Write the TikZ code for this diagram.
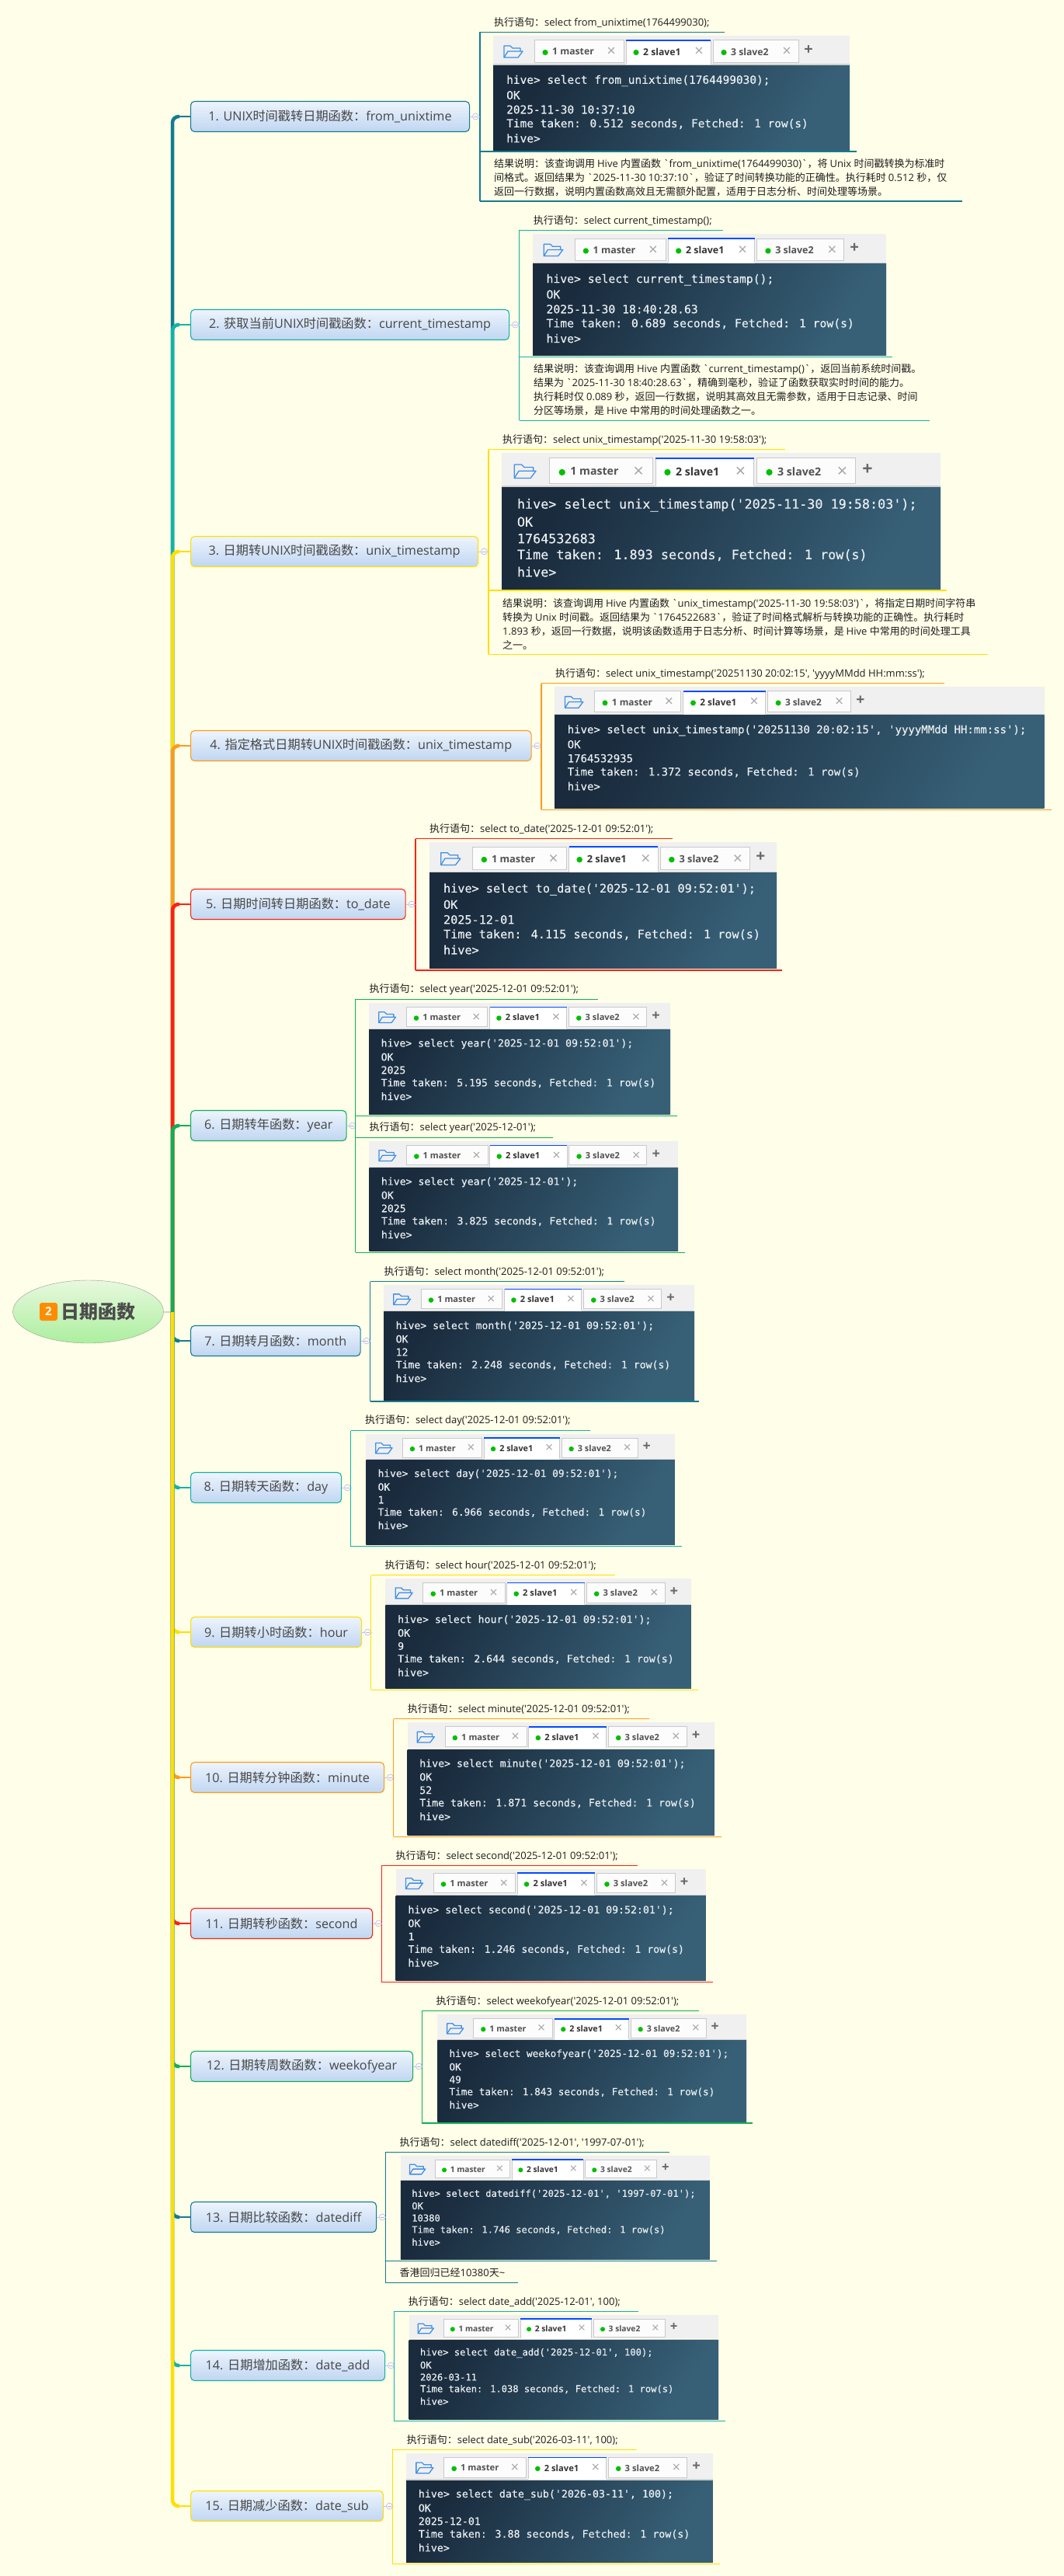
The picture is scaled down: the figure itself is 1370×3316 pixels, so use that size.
\documentclass[tikz,border=0pt]{standalone}
\usepackage{fontspec}
\usepackage{tikz}
\usetikzlibrary{positioning,shapes.geometric}
\newfontfamily\cnfont{Noto Sans CJK SC}
\newfontfamily\latfont{Open Sans}
\newfontfamily\termfont[FakeBold=0.3]{DejaVu Sans Mono}
\newfontfamily\tabfont{Open Sans}
% Chinese and Latin runs get their own font
\newXeTeXintercharclass\zhclass
\newcount\zhchar
\zhchar="3000
\loop\XeTeXcharclass\zhchar=\zhclass\advance\zhchar 1 \ifnum\zhchar<"A000 \repeat
\zhchar="FF00
\loop\XeTeXcharclass\zhchar=\zhclass\advance\zhchar 1 \ifnum\zhchar<"FFF0 \repeat
\XeTeXinterchartoks 0 \zhclass = {\cnfont}
\XeTeXinterchartoks \zhclass 0 = {\latfont}
\XeTeXinterchartoks 4095 0 = {\latfont}
\XeTeXinterchartoks 4095 \zhclass = {\cnfont}
\newcommand{\mixfont}{\XeTeXinterchartokenstate=1 \latfont}
\definecolor{paper}{HTML}{FFFEE8}
\definecolor{c1}{HTML}{127C8F}
\definecolor{c2}{HTML}{12B3A6}
\definecolor{c3}{HTML}{FFDF00}
\definecolor{c4}{HTML}{FF9A1A}
\definecolor{c5}{HTML}{FF2012}
\definecolor{c6}{HTML}{10AE58}
\definecolor{termdark}{HTML}{1A2B3D}
\definecolor{termlight}{HTML}{376077}
\definecolor{termtext}{HTML}{E9EEF1}
\definecolor{folder}{HTML}{3F8FE8}
\definecolor{tabline}{HTML}{C9C9C9}
\definecolor{inktext}{HTML}{1E1E1E}
\definecolor{topictop}{HTML}{EDF4FD}
\definecolor{topicbot}{HTML}{C0D6F1}
\definecolor{roottop}{HTML}{E8F8DE}
\definecolor{rootbot}{HTML}{ABEF9E}

% one mind-map topic: name, colour, centre y, width, text
\newcommand{\topic}[5]{%
  \node[topicbox, draw=#2, minimum width=#4pt] (#1) at (245,#3) {#5};
  \node[foldmark, right=3pt of #1] (#1-fold) {};
  \draw[foldlink] (#1) -- (#1-fold);
}
% trunk from the hub to a topic
\newcommand{\branch}[2]{%
  \draw[trunk, #2] (hub) |- ([xshift=9pt]hub |- #1.west);
  \draw[twig, #2] ([xshift=8pt]hub |- #1.west) -- (#1.west);
}
% rule with named ends
\newcommand{\ruleline}[5]{%
  \coordinate (#1-a) at (#3,#5);
  \coordinate (#1-b) at (#4,#5);
  \draw[framerule, #2] (#1-a) -- (#1-b);
}
% "statement" line above a rule: name, colour, x0, x1, text y, rule y, text
\newcommand{\execline}[7]{%
  \node[notetext] (#1-text) at (#3+18,#5) {#7};
  \ruleline{#1}{#2}{#3}{#4}{#6}
}
% terminal screenshot: name, x, y, w, h, scale, query, result, seconds
\newcommand{\shot}[9]{%
  \pgfmathsetmacro\shs{#6}%
  \pgfmathsetmacro\shw{#4/#6}%
  \pgfmathsetmacro\shh{#5/#6}%
  \pgfmathsetmacro\shmono{14.45*#6}%
  \pgfmathsetmacro\shtab{12.2*#6}%
  \pgfmathsetmacro\shplus{20*#6}%
  \begin{scope}[shift={(#2,#3)},x=\shs pt,y=-\shs pt]
    % toolbar
    \fill[toolbar] (0,0) rectangle (\shw,36);
    \draw[toolsep] (0,37) -- (\shw,37);
    \shade[termback] (0,38) rectangle (\shw,\shh);
    \draw[foldericon] (14,28) -- (14,13) -- (22,13) -- (25,16) -- (35,16) -- (35,20);
    \draw[foldericon] (14,28) -- (32,28) -- (38,20) -- (19,20) -- cycle;
    % tabs
    \draw[tabbox] (53,6) rectangle (168,34);
    \fill[tabdot] (67,21.5) circle (3.6);
    \node[tablabel] (#1-m) at (76,20.5) {1 master};
    \node[tabcross] (#1-mx) at (152,21) {×};
    \fill[white] (171,6) rectangle (280,37);
    \draw[tabline] (171,6) -- (171,36) (280,6) -- (280,36);
    \draw[tabtop] (171,6) -- (280,6);
    \fill[tabdot] (184,21.5) circle (3.6);
    \node[tablabel, text=black!80] (#1-a) at (193,20.5) {2 slave1};
    \node[tabcross] (#1-ax) at (265,21) {×};
    \draw[tabbox] (283,6) rectangle (393,34);
    \fill[tabdot] (297,21.5) circle (3.6);
    \node[tablabel] (#1-b) at (306,20.5) {3 slave2};
    \node[tabcross] (#1-bx) at (378,21) {×};
    \node[tabplus] (#1-p) at (406,18.5) {+};
    % terminal text
    \node[termline] (#1-l1) at (17,58) {hive> #7};
    \node[termline] (#1-l2) at (17,76.5) {OK};
    \node[termline] (#1-l3) at (17,95) {#8};
    \node[termline] (#1-l4) at (17,113.5) {Time taken: #9 seconds, Fetched: 1 row(s)};
    \node[termline] (#1-l5) at (17,132) {hive>};
  \end{scope}
}

\begin{document}
\begin{tikzpicture}[
    x=1pt, y=-1pt,
    every node/.style={font=\cnfont},
    rootbubble/.style={ellipse, draw=black!40, top color=roottop, bottom color=rootbot, minimum width=194pt, minimum height=81pt, inner sep=0pt},
    rootlabel/.style={font=\cnfont\bfseries\fontsize{24}{24}\selectfont, text=black!70, inner sep=0pt},
    rootbadge/.style={rounded corners=3pt, fill=orange!90!yellow, text=white, minimum size=23pt, inner sep=0pt, font=\tabfont\bfseries\fontsize{15}{15}\selectfont},
    rootlink/.style={draw=black!45, line width=0.7pt},
    topicbox/.style={rounded corners=5pt, line width=1.1pt, top color=topictop, bottom color=topicbot, minimum height=39pt, inner sep=0pt, anchor=west, font=\mixfont\fontsize{16.2}{16.2}\selectfont, text=black!72},
    foldmark/.style={circle, draw=blue!30!white, fill=paper, line width=0.6pt, minimum size=8pt, inner sep=0pt, path picture={\draw[blue!30!white, line width=0.6pt] ([xshift=1.5pt]path picture bounding box.west) -- ([xshift=-1.5pt]path picture bounding box.east);}},
    foldlink/.style={draw=blue!25!white, line width=0.6pt},
    trunk/.style={line width=4.5pt, rounded corners=8pt},
    twig/.style={line width=1.8pt},
    framerule/.style={line width=1.15pt},
    notetext/.style={font=\mixfont\fontsize{13}{18}\selectfont, text=inktext, anchor=west, inner sep=0pt, align=left},
    toolbar/.style={fill=black!6},
    toolsep/.style={draw=black!18, line width=1.2pt},
    termback/.style={left color=termdark, right color=termlight, shading angle=60},
    foldericon/.style={draw=folder, line width=1.3pt, line join=round},
    tabbox/.style={draw=tabline, fill=black!1, line width=1pt},
    tabline/.style={draw=tabline, line width=1pt},
    tabtop/.style={draw=blue!70!cyan, line width=1.8pt},
    tabdot/.style={fill=green!75!black},
    tablabel/.style={font=\tabfont\bfseries\fontsize{\shtab}{\shtab}\selectfont, text=black!68, anchor=west, inner sep=0pt},
    tabcross/.style={font=\tabfont\fontsize{\shplus}{\shplus}\selectfont, text=black!35, inner sep=0pt},
    tabplus/.style={font=\tabfont\bfseries\fontsize{\shplus}{\shplus}\selectfont, text=black!60, inner sep=0pt},
    termline/.style={font=\termfont\fontsize{\shmono}{\shmono}\selectfont, text=termtext, anchor=west, inner sep=0pt}
  ]
    \fill[paper] (0,0) rectangle (1370,3316);
    \useasboundingbox (0,0) rectangle (1370,3316);

    % Root
    \node[rootbubble] (root) at (113.6,1688.5) {};
    \node[rootbadge] (badge) at (62.5,1688.5) {2};
    \node[rootlabel] (title) at (126,1688.5) {日期函数};
    \coordinate (hub) at (222,1689);
    \draw[rootlink] (root) -- (hub);

    % Topics
    \topic{n1}{c1}{150}{359}{1. UNIX时间戳转日期函数：from\_unixtime}
    \topic{n2}{c2}{418}{410}{2. 获取当前UNIX时间戳函数：current\_timestamp}
    \topic{n3}{c3}{710}{370}{3. 日期转UNIX时间戳函数：unix\_timestamp}
    \topic{n4}{c4}{960}{438.5}{4. 指定格式日期转UNIX时间戳函数：unix\_timestamp}
    \topic{n5}{c5}{1164}{276.6}{5. 日期时间转日期函数：to\_date}
    \topic{n6}{c6}{1449}{200.5}{6. 日期转年函数：year}
    \topic{n7}{c1}{1726}{218.5}{7. 日期转月函数：month}
    \topic{n8}{c2}{1915}{194}{8. 日期转天函数：day}
    \topic{n9}{c3}{2101}{220}{9. 日期转小时函数：hour}
    \topic{n10}{c4}{2288}{249}{10. 日期转分钟函数：minute}
    \topic{n11}{c5}{2476}{234}{11. 日期转秒函数：second}
    \topic{n12}{c6}{2660}{286}{12. 日期转周数函数：weekofyear}
    \topic{n13}{c1}{2854}{239}{13. 日期比较函数：datediff}
    \topic{n14}{c2}{3045}{250}{14. 日期增加函数：date\_add}
    \topic{n15}{c3}{3226}{248}{15. 日期减少函数：date\_sub}

    % Branches (later ones lie on top)
    \branch{n1}{c1}
    \branch{n2}{c2}
    \branch{n3}{c3}
    \branch{n4}{c4}
    \branch{n5}{c5}
    \branch{n6}{c6}
    \branch{n7}{c1}
    \branch{n8}{c2}
    \branch{n9}{c3}
    \branch{n10}{c4}
    \branch{n11}{c5}
    \branch{n12}{c6}
    \branch{n13}{c1}
    \branch{n14}{c2}
    \branch{n15}{c3}

    % 1
    \execline{e1}{c1}{618}{933}{29}{41.4}{执行语句：select from\_unixtime(1764499030);}
    \shot{s1}{635}{46}{459}{147}{1}{select from\_unixtime(1764499030);}{2025-11-30 10:37:10}{0.512}
    \ruleline{m1}{c1}{618}{1102.5}{195}
    \node[notetext] (r1) at (636,229) {结果说明：该查询调用 Hive 内置函数 `from\_unixtime(1764499030)`，将 Unix 时间戳转换为标准时\\间格式。返回结果为 `2025-11-30 10:37:10`，验证了时间转换功能的正确性。执行耗时 0.512 秒，仅\\返回一行数据，说明内置函数高效且无需额外配置，适用于日志分析、时间处理等场景。};
    \ruleline{b1}{c1}{618}{1239}{259}
    \draw[framerule, c1] (e1-a) -- (b1-a);
    \draw[foldlink] (n1-fold) -- (n1-fold -| e1-a);

    % 2
    \execline{e2}{c2}{668.6}{930.5}{284.6}{296.4}{执行语句：select current\_timestamp();}
    \shot{s2}{686}{301}{455}{156}{1.02}{select current\_timestamp();}{2025-11-30 18:40:28.63}{0.689}
    \ruleline{m2}{c2}{668.6}{1149}{459.4}
    \node[notetext] (r2) at (687,502) {结果说明：该查询调用 Hive 内置函数 `current\_timestamp()`，返回当前系统时间戳。\\结果为 `2025-11-30 18:40:28.63`，精确到毫秒，验证了函数获取实时时间的能力。\\执行耗时仅 0.089 秒，返回一行数据，说明其高效且无需参数，适用于日志记录、时间\\分区等场景，是 Hive 中常用的时间处理函数之一。};
    \ruleline{b2}{c2}{668.6}{1196.5}{541.4}
    \draw[framerule, c2] (e2-a) -- (b2-a);
    \draw[foldlink] (n2-fold) -- (n2-fold -| e2-a);

    % 3
    \execline{e3}{c3}{629}{1011}{566.5}{578.6}{执行语句：select unix\_timestamp('2025-11-30 19:58:03');}
    \shot{s3}{646}{583}{565}{175}{1.16}{select unix\_timestamp('2025-11-30 19:58:03');}{1764532683}{1.893}
    \ruleline{m3}{c3}{629}{1219}{760}
    \node[notetext] (r3) at (647,803) {结果说明：该查询调用 Hive 内置函数 `unix\_timestamp('2025-11-30 19:58:03')`，将指定日期时间字符串\\转换为 Unix 时间戳。返回结果为 `1764522683`，验证了时间格式解析与转换功能的正确性。执行耗时\\1.893 秒，返回一行数据，说明该函数适用于日志分析、时间计算等场景，是 Hive 中常用的时间处理工具\\之一。};
    \ruleline{b3}{c3}{629}{1271.5}{842.4}
    \draw[framerule, c3] (e3-a) -- (b3-a);
    \draw[foldlink] (n3-fold) -- (n3-fold -| e3-a);

    % 4
    \execline{e4}{c4}{697}{1216}{867.4}{879.5}{执行语句：select unix\_timestamp('20251130 20:02:15', 'yyyyMMdd HH:mm:ss');}
    \shot{s4}{714}{884}{630.6}{156}{.97}{select unix\_timestamp('20251130 20:02:15', 'yyyyMMdd HH:mm:ss');}{1764532935}{1.372}
    \ruleline{b4}{c4}{697}{1353.6}{1042.4}
    \draw[framerule, c4] (e4-a) -- (b4-a);
    \draw[foldlink] (n4-fold) -- (n4-fold -| e4-a);

    % 5
    \execline{e5}{c5}{535}{866}{1067.4}{1079.5}{执行语句：select to\_date('2025-12-01 09:52:01');}
    \shot{s5}{553}{1084}{447}{162.4}{1.05}{select to\_date('2025-12-01 09:52:01');}{2025-12-01}{4.115}
    \ruleline{b5}{c5}{535}{1007}{1249}
    \draw[framerule, c5] (e5-a) -- (b5-a);
    \draw[foldlink] (n5-fold) -- (n5-fold -| e5-a);

    % 6
    \execline{e6}{c6}{457.5}{770}{1274}{1286.4}{执行语句：select year('2025-12-01 09:52:01');}
    \shot{s6}{475}{1291}{388}{143}{.91}{select year('2025-12-01 09:52:01');}{2025}{5.195}
    \ruleline{m6}{c6}{457.5}{872}{1436.4}
    \execline{f6}{c6}{457.5}{712}{1452}{1464.5}{执行语句：select year('2025-12-01');}
    \shot{t6}{475.3}{1469}{397.7}{141}{.91}{select year('2025-12-01');}{2025}{3.825}
    \ruleline{b6}{c6}{457.5}{882}{1612.4}
    \draw[framerule, c6] (e6-a) -- (b6-a);
    \draw[foldlink] (n6-fold) -- (n6-fold -| e6-a);

    % 7
    \execline{e7}{c1}{476.5}{803.7}{1637.4}{1649.7}{执行语句：select month('2025-12-01 09:52:01');}
    \shot{s7}{494}{1654}{400}{148}{.91}{select month('2025-12-01 09:52:01');}{12}{2.248}
    \ruleline{b7}{c1}{476.5}{900}{1804}
    \draw[framerule, c1] (e7-a) -- (b7-a);
    \draw[foldlink] (n7-fold) -- (n7-fold -| e7-a);

    % 8
    \execline{e8}{c2}{451.8}{759.5}{1829}{1841.5}{执行语句：select day('2025-12-01 09:52:01');}
    \shot{s8}{471.3}{1846}{397.7}{142}{.89}{select day('2025-12-01 09:52:01');}{1}{6.966}
    \ruleline{b8}{c2}{451.8}{877.7}{1990.5}
    \draw[framerule, c2] (e8-a) -- (b8-a);
    \draw[foldlink] (n8-fold) -- (n8-fold -| e8-a);

    % 9
    \execline{e9}{c3}{477.5}{792}{2015}{2027.7}{执行语句：select hour('2025-12-01 09:52:01');}
    \shot{s9}{496.4}{2032}{393.4}{141}{.915}{select hour('2025-12-01 09:52:01');}{9}{2.644}
    \ruleline{b9}{c3}{477.5}{898.5}{2175.4}
    \draw[framerule, c3] (e9-a) -- (b9-a);
    \draw[foldlink] (n9-fold) -- (n9-fold -| e9-a);

    % 10
    \execline{e10}{c4}{506.6}{836}{2200.4}{2212.5}{执行语句：select minute('2025-12-01 09:52:01');}
    \shot{s10}{524.5}{2217.4}{395.5}{144.6}{.915}{select minute('2025-12-01 09:52:01');}{52}{1.871}
    \ruleline{b10}{c4}{506.6}{928.6}{2364.3}
    \draw[framerule, c4] (e10-a) -- (b10-a);
    \draw[foldlink] (n10-fold) -- (n10-fold -| e10-a);

    % 11
    \execline{e11}{c5}{491.3}{821.4}{2389.3}{2401.3}{执行语句：select second('2025-12-01 09:52:01');}
    \shot{s11}{509.7}{2405.8}{399.3}{143.2}{.915}{select second('2025-12-01 09:52:01');}{1}{1.246}
    \ruleline{b11}{c5}{491.3}{917.9}{2551.3}
    \draw[framerule, c5] (e11-a) -- (b11-a);
    \draw[foldlink] (n11-fold) -- (n11-fold -| e11-a);

    % 12
    \execline{e12}{c6}{543.4}{899.5}{2576.3}{2588.4}{执行语句：select weekofyear('2025-12-01 09:52:01');}
    \shot{s12}{563.3}{2593.3}{397.7}{137.7}{.88}{select weekofyear('2025-12-01 09:52:01');}{49}{1.843}
    \ruleline{b12}{c6}{543.4}{969.4}{2733}
    \draw[framerule, c6] (e12-a) -- (b12-a);
    \draw[foldlink] (n12-fold) -- (n12-fold -| e12-a);

    % 13
    \execline{e13}{c1}{496.4}{861.7}{2758.3}{2770.5}{执行语句：select datediff('2025-12-01', '1997-07-01');}
    \shot{s13}{515.8}{2775.3}{398}{132.7}{.84}{select datediff('2025-12-01', '1997-07-01');}{10380}{1.746}
    \ruleline{m13}{c1}{496.4}{923}{2910.4}
    \execline{f13}{c1}{496.4}{667.3}{2926}{2938.4}{香港回归已经10380天\textasciitilde}
    \draw[framerule, c1] (e13-a) -- (f13-a);
    \draw[foldlink] (n13-fold) -- (n13-fold -| e13-a);

    % 14
    \execline{e14}{c2}{507.7}{822.4}{2963}{2975.3}{执行语句：select date\_add('2025-12-01', 100);}
    \shot{s14}{526.5}{2980.2}{398.5}{133.8}{.84}{select date\_add('2025-12-01', 100);}{2026-03-11}{1.038}
    \ruleline{b14}{c2}{507.7}{934}{3116.5}
    \draw[framerule, c2] (e14-a) -- (b14-a);
    \draw[foldlink] (n14-fold) -- (n14-fold -| e14-a);

    % 15
    \execline{e15}{c3}{505.6}{820}{3141.3}{3153.4}{执行语句：select date\_sub('2026-03-11', 100);}
    \shot{s15}{523}{3158}{395}{140}{.92}{select date\_sub('2026-03-11', 100);}{2025-12-01}{3.88}
    \ruleline{b15}{c3}{505.6}{926.5}{3300.7}
    \draw[framerule, c3] (e15-a) -- (b15-a);
    \draw[foldlink] (n15-fold) -- (n15-fold -| e15-a);

\end{tikzpicture}
\end{document}
